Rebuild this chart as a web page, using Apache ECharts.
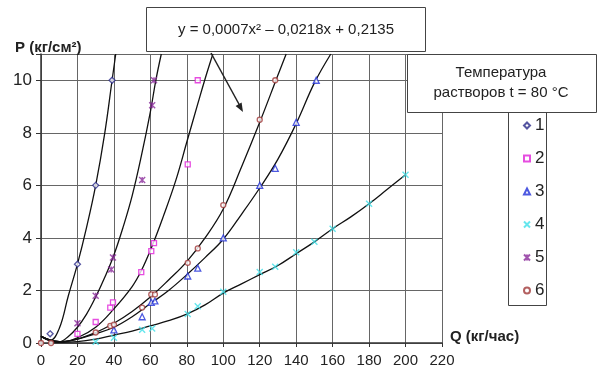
<!DOCTYPE html>
<html><head><meta charset="utf-8">
<script src="https://cdn.jsdelivr.net/npm/echarts@6/dist/echarts.min.js"></script>
<style>html,body{margin:0;padding:0;background:#fff}#c{width:597px;height:377px}</style>
</head><body><div id="c"></div>
<script>
// ---- data ----
var xTicks = [0,20,40,60,80,100,120,140,160,180,200,220];
var yTicks = [0,2,4,6,8,10];
var seriesNames = ['1','2','3','4','5','6'];

var s1 = [[5,0.35],[20,3],[30,6],[39,10]];
var s2 = [[20,0.35],[30,0.8],[38,1.35],[39.5,1.55],[55,2.7],[60.5,3.5],[62,3.8],[80.5,6.8],[86,10]];
var s3 = [[40,0.5],[55.5,1.0],[60.5,1.55],[62.5,1.6],[80.5,2.55],[86,2.85],[100,4.0],[120,6.0],[128.5,6.65],[140,8.4],[151,10]];
var s4 = [[30,0.05],[40,0.2],[55.5,0.5],[61,0.55],[80.5,1.1],[86,1.4],[100,1.95],[120,2.7],[128.5,2.9],[140,3.45],[150,3.85],[160,4.35],[180,5.3],[200,6.4]];
var s5 = [[20,0.75],[30,1.8],[38.5,2.8],[39.5,3.25],[55.5,6.2],[61,9.05],[62,10]];
var s6 = [[0,0],[5.5,0],[30,0.4],[38,0.65],[40,0.7],[55.5,1.35],[60.5,1.85],[62.5,1.85],[80.5,3.05],[86,3.6],[100,5.25],[120,8.5],[128.5,10]];

// trend curves
var curve1 = [[0,0.25],[5,0.1],[10,0.55],[15,1.8],[20,3],[25,4.4],[30,6],[35,8],[39,10],[41,11]];
var curve5 = [[0,0.25],[10,0.05],[15,0.25],[20,0.6],[25,1.1],[30,1.75],[35,2.5],[40,3.35],[45,4.4],[50,5.6],[55,7.1],[60,8.8],[63,10],[66,11]];
var curve2 = [[0,0.25],[10,0.02],[20,0.2],[30,0.6],[40,1.3],[50,2.15],[55,2.75],[61,3.7],[67,4.8],[74,6.2],[80,7.65],[86,9.1],[90,10.05],[94.3,11]];
var curve6 = [[0,0.25],[10,0.05],[20,0.15],[30,0.4],[40,0.75],[50,1.2],[60,1.75],[70,2.4],[80,3.1],[90,4.0],[100,5.1],[110,6.7],[120,8.4],[130,10.2],[134.5,11]];
var curve3 = [[0,0.25],[10,0.05],[20,0.15],[30,0.35],[40,0.6],[50,1.0],[60,1.5],[70,2.0],[80,2.6],[90,3.25],[100,3.95],[110,4.9],[120,5.9],[130,7.0],[140,8.35],[150,9.9],[159,11]];
var curve4 = [[0,0.25],[10,0.02],[20,0.05],[30,0.15],[40,0.3],[50,0.45],[60,0.65],[70,0.85],[80,1.1],[90,1.45],[100,1.9],[110,2.25],[120,2.6],[130,2.95],[140,3.4],[150,3.85],[160,4.35],[170,4.8],[180,5.3],[190,5.85],[200,6.4]];

var equationText = 'y = 0,0007x\u00B2 \u2013 0,0218x + 0,2135';
var legendTitle = ['Температура', 'растворов t = 80 °C'];
var yAxisName = 'P (кг/см\u00B2)';
var xAxisName = 'Q (кг/час)';

// ---- chart ----
var FONT = '"Liberation Sans", Arial, sans-serif';
var chart = echarts.init(document.getElementById('c'), null, {renderer:'canvas'});
var crossPath = 'path://M0,0L10,10M10,0L0,10';
var starPath = 'path://M0,0L10,10M10,0L0,10M5,0L5,10';

function scat(name, data, symbol, color, size, path) {
  return {
    name: name, type: 'scatter', data: data, symbol: symbol, symbolSize: size, z: 5,
    itemStyle: path ? {color: 'rgba(0,0,0,0)', borderColor: color, borderWidth: 1.4}
                    : {color: '#fff', borderColor: color, borderWidth: 1.3}
  };
}
function curve(data) {
  return {type: 'line', data: data, smooth: 0.4, symbol: 'none', silent: true, z: 3,
    lineStyle: {color: '#111', width: 1.3}};
}

var option = {
  animation: false,
  backgroundColor: '#fff',
  textStyle: {fontFamily: FONT},
  grid: {left: 41, right: 155, top: 54, bottom: 34, containLabel: false},
  xAxis: {
    type: 'value', min: 0, max: 220, interval: 20,
    axisLine: {show: true, lineStyle: {color: '#333', width: 1.5}},
    axisTick: {show: true, length: 4, lineStyle: {color: '#333'}},
    axisLabel: {color: '#222', fontSize: 15, margin: 10, fontFamily: FONT,
      formatter: function(v){ return xTicks.indexOf(v) >= 0 ? String(v) : ''; }},
    splitLine: {show: true, lineStyle: {color: '#666', width: 1}}
  },
  yAxis: {
    type: 'value', min: 0, max: 11, interval: 2,
    axisLine: {show: true, lineStyle: {color: '#333', width: 1.5}},
    axisTick: {show: true, length: 5, lineStyle: {color: '#333'}},
    axisLabel: {color: '#222', fontSize: 17, margin: 9, fontFamily: FONT,
      formatter: function(v){ return yTicks.indexOf(v) >= 0 ? String(v) : ''; }},
    splitLine: {show: true, lineStyle: {color: '#666', width: 1}}
  },
  legend: {
    data: seriesNames, orient: 'vertical', left: 518, top: 112,
    itemWidth: 6, itemHeight: 6, itemGap: 16,
    textStyle: {fontSize: 17, color: '#222', fontFamily: FONT},
    z: 20
  },
  series: [
    curve(curve1), curve(curve5), curve(curve2), curve(curve6), curve(curve3), curve(curve4),
    scat('1', s1, 'diamond', '#2a2a8a', 6),
    scat('2', s2, 'rect', '#e020d8', 5),
    scat('3', s3, 'triangle', '#2030d8', 6),
    scat('4', s4, crossPath, '#40e0e8', 6, true),
    scat('5', s5, starPath, '#8a2a9a', 6, true),
    scat('6', s6, 'circle', '#a03838', 5)
  ],
  graphic: [
    {type: 'rect', z: 10, shape: {x: 146.5, y: 7.5, width: 279, height: 44},
      style: {fill: '#fff', stroke: '#444', lineWidth: 1}},
    {type: 'text', z: 11, x: 286, y: 29.5,
      style: {text: equationText, font: '15px ' + FONT, fill: '#222', textAlign: 'center', textVerticalAlign: 'middle'}},
    {type: 'line', z: 11, shape: {x1: 211, y1: 53, x2: 240, y2: 106}, style: {stroke: '#222', lineWidth: 1.5}},
    {type: 'polygon', z: 11, shape: {points: [[243,112],[241.6,102.5],[235.6,105.9]]}, style: {fill: '#222'}},
    {type: 'rect', z: 10, shape: {x: 407.5, y: 54.5, width: 189, height: 58},
      style: {fill: '#fff', stroke: '#444', lineWidth: 1}},
    {type: 'text', z: 11, x: 501, y: 73,
      style: {text: legendTitle[0], font: '15px ' + FONT, fill: '#222', textAlign: 'center', textVerticalAlign: 'middle'}},
    {type: 'text', z: 11, x: 501, y: 93,
      style: {text: legendTitle[1], font: '15px ' + FONT, fill: '#222', textAlign: 'center', textVerticalAlign: 'middle'}},
    {type: 'rect', z: 9, shape: {x: 508.5, y: 112.5, width: 38, height: 193},
      style: {fill: '#fff', stroke: '#444', lineWidth: 1}},
    {type: 'text', z: 11, x: 15, y: 48,
      style: {text: yAxisName, font: 'bold 15px ' + FONT, fill: '#222', textVerticalAlign: 'middle'}},
    {type: 'text', z: 11, x: 450, y: 337,
      style: {text: xAxisName, font: 'bold 15px ' + FONT, fill: '#222', textVerticalAlign: 'middle'}}
  ]
};
chart.setOption(option);
</script>
</body></html>
